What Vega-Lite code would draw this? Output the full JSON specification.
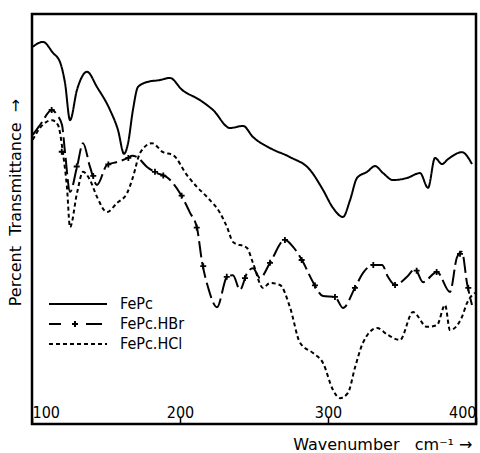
{
  "$schema": "https://vega.github.io/schema/vega-lite/v6.json",
  "width": 444,
  "height": 410,
  "autosize": "none",
  "padding": {"left": 32, "top": 14, "right": 4, "bottom": 29},
  "background": "white",
  "config": {
    "view": {"stroke": "black", "strokeWidth": 2.5},
    "font": "DejaVu Sans Condensed"
  },
  "datasets": {
    "spectra": [
      {"s": "FePc", "wn": 100.5, "T": 92.0},
      {"s": "FePc", "wn": 107.4, "T": 93.2},
      {"s": "FePc", "wn": 114.2, "T": 90.5},
      {"s": "FePc", "wn": 118.9, "T": 88.3},
      {"s": "FePc", "wn": 122.3, "T": 83.2},
      {"s": "FePc", "wn": 125.7, "T": 74.1},
      {"s": "FePc", "wn": 130.4, "T": 81.5},
      {"s": "FePc", "wn": 137.2, "T": 85.9},
      {"s": "FePc", "wn": 143.9, "T": 82.2},
      {"s": "FePc", "wn": 152.7, "T": 76.6},
      {"s": "FePc", "wn": 158.1, "T": 71.7},
      {"s": "FePc", "wn": 162.2, "T": 65.9},
      {"s": "FePc", "wn": 164.9, "T": 68.5},
      {"s": "FePc", "wn": 168.2, "T": 76.6},
      {"s": "FePc", "wn": 171.6, "T": 82.2},
      {"s": "FePc", "wn": 177.7, "T": 83.4},
      {"s": "FePc", "wn": 186.5, "T": 83.9},
      {"s": "FePc", "wn": 193.2, "T": 84.4},
      {"s": "FePc", "wn": 201.4, "T": 81.5},
      {"s": "FePc", "wn": 213.5, "T": 79.0},
      {"s": "FePc", "wn": 222.3, "T": 76.6},
      {"s": "FePc", "wn": 233.8, "T": 72.2},
      {"s": "FePc", "wn": 242.6, "T": 72.7},
      {"s": "FePc", "wn": 249.3, "T": 70.0},
      {"s": "FePc", "wn": 260.8, "T": 67.3},
      {"s": "FePc", "wn": 274.3, "T": 65.1},
      {"s": "FePc", "wn": 287.8, "T": 62.0},
      {"s": "FePc", "wn": 296.6, "T": 57.1},
      {"s": "FePc", "wn": 303.4, "T": 52.7},
      {"s": "FePc", "wn": 310.1, "T": 50.5},
      {"s": "FePc", "wn": 314.9, "T": 54.6},
      {"s": "FePc", "wn": 319.6, "T": 60.0},
      {"s": "FePc", "wn": 326.4, "T": 61.5},
      {"s": "FePc", "wn": 331.8, "T": 62.9},
      {"s": "FePc", "wn": 337.2, "T": 61.2},
      {"s": "FePc", "wn": 343.9, "T": 59.5},
      {"s": "FePc", "wn": 353.4, "T": 60.0},
      {"s": "FePc", "wn": 362.2, "T": 61.2},
      {"s": "FePc", "wn": 367.6, "T": 57.6},
      {"s": "FePc", "wn": 372.3, "T": 64.9},
      {"s": "FePc", "wn": 377.0, "T": 63.4},
      {"s": "FePc", "wn": 381.1, "T": 64.6},
      {"s": "FePc", "wn": 390.5, "T": 66.3},
      {"s": "FePc", "wn": 397.3, "T": 63.4},
      {"s": "FePc.HBr", "wn": 100.5, "T": 70.5},
      {"s": "FePc.HBr", "wn": 105.4, "T": 72.9},
      {"s": "FePc.HBr", "wn": 113.5, "T": 76.6},
      {"s": "FePc.HBr", "wn": 116.9, "T": 75.4},
      {"s": "FePc.HBr", "wn": 120.3, "T": 72.9},
      {"s": "FePc.HBr", "wn": 122.3, "T": 66.3},
      {"s": "FePc.HBr", "wn": 125.7, "T": 56.6},
      {"s": "FePc.HBr", "wn": 130.4, "T": 62.7},
      {"s": "FePc.HBr", "wn": 134.5, "T": 68.5},
      {"s": "FePc.HBr", "wn": 139.2, "T": 62.7},
      {"s": "FePc.HBr", "wn": 143.9, "T": 58.3},
      {"s": "FePc.HBr", "wn": 150.7, "T": 63.2},
      {"s": "FePc.HBr", "wn": 157.4, "T": 63.9},
      {"s": "FePc.HBr", "wn": 164.9, "T": 64.9},
      {"s": "FePc.HBr", "wn": 167.6, "T": 65.4},
      {"s": "FePc.HBr", "wn": 170.9, "T": 65.1},
      {"s": "FePc.HBr", "wn": 177.7, "T": 62.7},
      {"s": "FePc.HBr", "wn": 184.5, "T": 61.2},
      {"s": "FePc.HBr", "wn": 191.2, "T": 60.2},
      {"s": "FePc.HBr", "wn": 200.0, "T": 56.3},
      {"s": "FePc.HBr", "wn": 206.8, "T": 51.5},
      {"s": "FePc.HBr", "wn": 211.5, "T": 47.8},
      {"s": "FePc.HBr", "wn": 214.9, "T": 39.5},
      {"s": "FePc.HBr", "wn": 218.9, "T": 33.4},
      {"s": "FePc.HBr", "wn": 225.0, "T": 28.5},
      {"s": "FePc.HBr", "wn": 231.8, "T": 35.9},
      {"s": "FePc.HBr", "wn": 235.8, "T": 36.3},
      {"s": "FePc.HBr", "wn": 240.5, "T": 32.7},
      {"s": "FePc.HBr", "wn": 245.3, "T": 36.8},
      {"s": "FePc.HBr", "wn": 249.3, "T": 38.0},
      {"s": "FePc.HBr", "wn": 254.1, "T": 35.6},
      {"s": "FePc.HBr", "wn": 260.8, "T": 39.3},
      {"s": "FePc.HBr", "wn": 270.9, "T": 44.9},
      {"s": "FePc.HBr", "wn": 276.4, "T": 43.2},
      {"s": "FePc.HBr", "wn": 282.4, "T": 40.0},
      {"s": "FePc.HBr", "wn": 289.9, "T": 34.6},
      {"s": "FePc.HBr", "wn": 296.6, "T": 31.2},
      {"s": "FePc.HBr", "wn": 304.7, "T": 31.0},
      {"s": "FePc.HBr", "wn": 310.1, "T": 28.3},
      {"s": "FePc.HBr", "wn": 318.2, "T": 33.2},
      {"s": "FePc.HBr", "wn": 323.6, "T": 36.8},
      {"s": "FePc.HBr", "wn": 330.4, "T": 38.8},
      {"s": "FePc.HBr", "wn": 336.5, "T": 38.8},
      {"s": "FePc.HBr", "wn": 340.5, "T": 35.9},
      {"s": "FePc.HBr", "wn": 345.3, "T": 33.9},
      {"s": "FePc.HBr", "wn": 353.4, "T": 35.9},
      {"s": "FePc.HBr", "wn": 358.8, "T": 37.8},
      {"s": "FePc.HBr", "wn": 364.2, "T": 34.6},
      {"s": "FePc.HBr", "wn": 373.6, "T": 37.1},
      {"s": "FePc.HBr", "wn": 382.4, "T": 32.2},
      {"s": "FePc.HBr", "wn": 387.2, "T": 40.7},
      {"s": "FePc.HBr", "wn": 390.5, "T": 42.0},
      {"s": "FePc.HBr", "wn": 393.9, "T": 34.4},
      {"s": "FePc.HBr", "wn": 397.3, "T": 29.0},
      {"s": "FePc.HCl", "wn": 100.5, "T": 69.3},
      {"s": "FePc.HCl", "wn": 105.4, "T": 72.2},
      {"s": "FePc.HCl", "wn": 113.5, "T": 74.1},
      {"s": "FePc.HCl", "wn": 117.6, "T": 72.9},
      {"s": "FePc.HCl", "wn": 120.9, "T": 66.1},
      {"s": "FePc.HCl", "wn": 123.6, "T": 57.8},
      {"s": "FePc.HCl", "wn": 125.7, "T": 48.0},
      {"s": "FePc.HCl", "wn": 130.4, "T": 56.3},
      {"s": "FePc.HCl", "wn": 134.5, "T": 61.5},
      {"s": "FePc.HCl", "wn": 139.2, "T": 59.5},
      {"s": "FePc.HCl", "wn": 143.9, "T": 55.4},
      {"s": "FePc.HCl", "wn": 150.7, "T": 51.7},
      {"s": "FePc.HCl", "wn": 157.4, "T": 53.9},
      {"s": "FePc.HCl", "wn": 164.2, "T": 56.3},
      {"s": "FePc.HCl", "wn": 168.2, "T": 60.2},
      {"s": "FePc.HCl", "wn": 173.0, "T": 66.1},
      {"s": "FePc.HCl", "wn": 181.1, "T": 68.5},
      {"s": "FePc.HCl", "wn": 188.5, "T": 66.3},
      {"s": "FePc.HCl", "wn": 195.3, "T": 65.6},
      {"s": "FePc.HCl", "wn": 204.7, "T": 60.7},
      {"s": "FePc.HCl", "wn": 211.5, "T": 57.8},
      {"s": "FePc.HCl", "wn": 218.2, "T": 55.4},
      {"s": "FePc.HCl", "wn": 227.0, "T": 51.5},
      {"s": "FePc.HCl", "wn": 231.8, "T": 48.0},
      {"s": "FePc.HCl", "wn": 235.8, "T": 44.4},
      {"s": "FePc.HCl", "wn": 245.3, "T": 42.9},
      {"s": "FePc.HCl", "wn": 249.3, "T": 39.3},
      {"s": "FePc.HCl", "wn": 256.1, "T": 33.2},
      {"s": "FePc.HCl", "wn": 260.8, "T": 34.4},
      {"s": "FePc.HCl", "wn": 267.6, "T": 33.9},
      {"s": "FePc.HCl", "wn": 274.3, "T": 28.5},
      {"s": "FePc.HCl", "wn": 281.1, "T": 19.8},
      {"s": "FePc.HCl", "wn": 289.9, "T": 17.3},
      {"s": "FePc.HCl", "wn": 296.6, "T": 14.9},
      {"s": "FePc.HCl", "wn": 303.4, "T": 8.3},
      {"s": "FePc.HCl", "wn": 308.1, "T": 6.3},
      {"s": "FePc.HCl", "wn": 313.5, "T": 7.6},
      {"s": "FePc.HCl", "wn": 318.2, "T": 13.7},
      {"s": "FePc.HCl", "wn": 323.6, "T": 19.8},
      {"s": "FePc.HCl", "wn": 333.1, "T": 23.4},
      {"s": "FePc.HCl", "wn": 340.5, "T": 21.7},
      {"s": "FePc.HCl", "wn": 348.6, "T": 20.5},
      {"s": "FePc.HCl", "wn": 357.4, "T": 27.3},
      {"s": "FePc.HCl", "wn": 366.9, "T": 23.7},
      {"s": "FePc.HCl", "wn": 373.6, "T": 24.1},
      {"s": "FePc.HCl", "wn": 379.1, "T": 29.0},
      {"s": "FePc.HCl", "wn": 382.4, "T": 22.9},
      {"s": "FePc.HCl", "wn": 390.5, "T": 26.1},
      {"s": "FePc.HCl", "wn": 393.9, "T": 29.5},
      {"s": "FePc.HCl", "wn": 399.3, "T": 32.0}
    ],
    "hbrMarkers": [
      {"wn": 113.3, "T": 76.6},
      {"wn": 120.1, "T": 66.4},
      {"wn": 130.2, "T": 62.8},
      {"wn": 141.4, "T": 60.5},
      {"wn": 151.6, "T": 63.3},
      {"wn": 165.1, "T": 64.9},
      {"wn": 183.1, "T": 61.5},
      {"wn": 188.7, "T": 60.6},
      {"wn": 201.1, "T": 55.7},
      {"wn": 211.3, "T": 47.9},
      {"wn": 215.7, "T": 38.5},
      {"wn": 231.6, "T": 35.9},
      {"wn": 243.9, "T": 35.6},
      {"wn": 260.8, "T": 39.3},
      {"wn": 270.9, "T": 44.9},
      {"wn": 282.2, "T": 40.0},
      {"wn": 291.2, "T": 33.8},
      {"wn": 304.7, "T": 31.0},
      {"wn": 318.2, "T": 33.2},
      {"wn": 330.6, "T": 38.8},
      {"wn": 345.3, "T": 33.9},
      {"wn": 359.9, "T": 37.4},
      {"wn": 373.4, "T": 37.1},
      {"wn": 389.2, "T": 41.5},
      {"wn": 394.8, "T": 33.2}
    ]
  },
  "layer": [
    {
      "data": {"name": "spectra"},
      "mark": {"type": "line", "color": "black", "strokeWidth": 2, "interpolate": "monotone"},
      "encoding": {
        "x": {
          "field": "wn", "type": "quantitative",
          "scale": {"domain": [100, 400], "nice": false, "zero": false},
          "axis": {
            "values": [100, 200, 300, 400],
            "domain": false, "grid": false,
            "tickSize": -7, "tickColor": "black", "tickWidth": 1.5,
            "labelPadding": -13, "labelFlush": true, "labelFontSize": 16,
            "labelColor": "black", "labelFont": "DejaVu Sans Condensed",
            "title": "Wavenumber\u00a0\u00a0\u00a0cm⁻¹\u00a0→", "titleFontSize": 16, "titleFontWeight": "normal",
            "titleFont": "DejaVu Sans",
            "titleColor": "black", "titleAlign": "right",
            "titleBaseline": "alphabetic", "titleX": 440, "titleY": 25
          }
        },
        "y": {
          "field": "T", "type": "quantitative",
          "scale": {"domain": [0, 100], "nice": false},
          "axis": {
            "domain": false, "ticks": false, "labels": false, "grid": false,
            "title": "Percent\u00a0\u00a0Transmittance\u00a0\u00a0→", "titleFontSize": 16, "titleFontWeight": "normal",
            "titleFont": "DejaVu Sans",
            "titleColor": "black", "titleAngle": -90, "titleAlign": "center",
            "titleBaseline": "middle", "titleX": -17, "titleY": 188
          }
        },
        "detail": {"field": "s"},
        "strokeDash": {
          "field": "s", "type": "nominal",
          "scale": {"domain": ["FePc", "FePc.HBr", "FePc.HCl"], "range": [[1, 0], [16, 5], [4, 3]]},
          "legend": {
            "orient": "none", "legendX": 35, "legendY": 279, "title": null,
            "symbolType": "M-3,0H3", "symbolSize": 374, "symbolStrokeWidth": 2,
            "symbolStrokeColor": "black", "labelFontSize": 16, "labelColor": "black",
            "labelFont": "DejaVu Sans Condensed", "labelOffset": 31, "rowPadding": 1,
            "encode": {
              "symbols": {
                "update": {
                  "shape": {"signal": "datum.value === 'FePc.HBr' ? 'M-3,0H-1.76M-0.62,0H0M-0.31,-0.31V0.31M0.83,0H3' : 'M-3,0H3'"},
                  "strokeDash": {"signal": "datum.value === 'FePc.HCl' ? [4, 3] : [1, 0]"}
                }
              }
            }
          }
        }
      }
    },
    {
      "data": {"name": "hbrMarkers"},
      "mark": {"type": "point", "shape": "M-1,0H1M0,-1V1", "size": 36, "stroke": "black", "strokeWidth": 1.8, "filled": false, "opacity": 1},
      "encoding": {
        "x": {"field": "wn", "type": "quantitative"},
        "y": {"field": "T", "type": "quantitative"}
      }
    }
  ]
}
